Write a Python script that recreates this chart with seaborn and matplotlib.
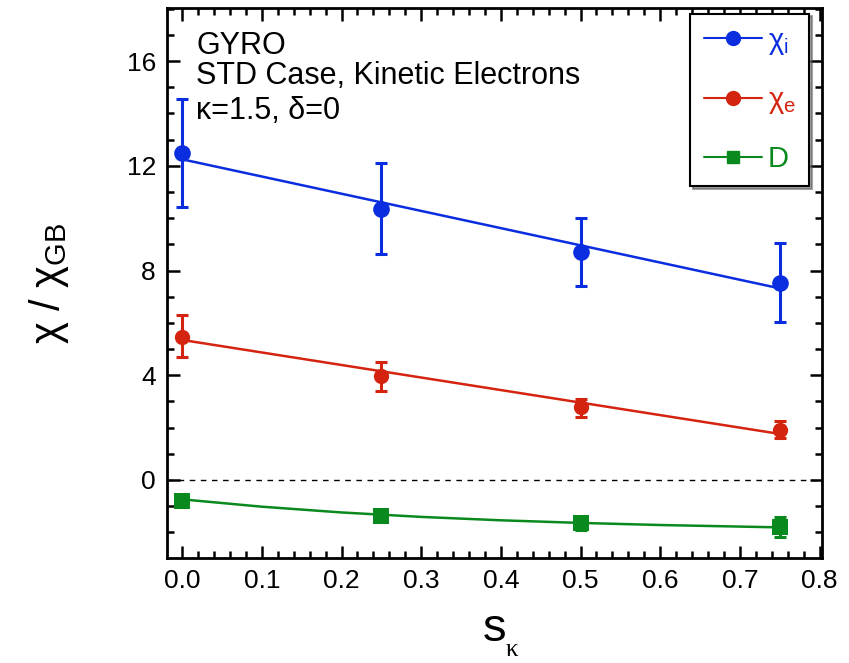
import numpy as np
import pandas as pd
import matplotlib
matplotlib.use("Agg")
import matplotlib.pyplot as plt
import seaborn as sns
from matplotlib.lines import Line2D
from matplotlib.ticker import MultipleLocator, FormatStrFormatter

# ---- data ----
s_kappa = [0.0, 0.25, 0.5, 0.75]
chi_i = [12.48, 10.36, 8.70, 7.53]
chi_i_lo = [10.41, 8.62, 7.40, 6.04]
chi_i_hi = [14.56, 12.11, 10.02, 9.04]
chi_e = [5.46, 3.97, 2.78, 1.92]
chi_e_lo = [4.70, 3.40, 2.40, 1.59]
chi_e_hi = [6.30, 4.51, 3.08, 2.25]
D = [-0.80, -1.38, -1.66, -1.81]
D_lo = [-1.02, -1.62, -1.92, -2.19]
D_hi = [-0.58, -1.14, -1.40, -1.40]

fit_x = [0.0, 0.75]
chi_i_fit = [12.25, 7.32]
chi_e_fit = [5.35, 1.76]
D_fit_x = [0.0, 0.1, 0.2, 0.3, 0.4, 0.5, 0.6, 0.7, 0.75]
D_fit = [-0.74, -1.02, -1.24, -1.41, -1.54, -1.64, -1.72, -1.78, -1.81]

labels = ["χ$_\\mathregular{i}$", "χ$_\\mathregular{e}$", "D"]
colors = ["#0a2de0", "#d42410", "#0a8a1e"]

sns.set_style("white")
plt.rcParams['font.family'] = ['Liberation Sans', 'DejaVu Sans']
plt.rcParams['mathtext.fontset'] = 'custom'
plt.rcParams['mathtext.rm'] = 'Liberation Sans'
for k in ['text.color', 'axes.labelcolor', 'xtick.color', 'ytick.color']:
    plt.rcParams[k] = 'black'

fig = plt.figure(figsize=(8.49, 6.63), dpi=100)
ax = fig.add_axes([167/849, 105/663, (822-167)/849, (558-8)/663])

ax.axhline(0, color="black", lw=1.0, ls=(0, (4, 4)), zorder=1)

series = [
    (chi_i, chi_i_lo, chi_i_hi, fit_x, chi_i_fit, "o", 12),
    (chi_e, chi_e_lo, chi_e_hi, fit_x, chi_e_fit, "o", 11),
    (D, D_lo, D_hi, D_fit_x, D_fit, "s", 11),
]
for (vals, lo, hi, fx, fy, mk, ms), col in zip(series, colors):
    sns.lineplot(x=fx, y=fy, ax=ax, color=col, lw=1.8, zorder=2)
    v = np.array(vals)
    yerr = np.vstack([v - np.array(lo), np.array(hi) - v])
    ax.errorbar(s_kappa, vals, yerr=yerr, fmt="none", ecolor=col,
                elinewidth=2.2, capsize=4, capthick=2.2, zorder=3)
    sns.scatterplot(x=s_kappa, y=vals, ax=ax, color=col, marker=mk,
                    s=ms**2, edgecolor=col, linewidth=0, zorder=4)

ax.set_xlim(-0.019, 0.803)
ax.set_ylim(-2.98, 18.03)
ax.xaxis.set_major_locator(MultipleLocator(0.1))
ax.xaxis.set_minor_locator(MultipleLocator(0.02))
ax.yaxis.set_major_locator(MultipleLocator(4))
ax.yaxis.set_minor_locator(MultipleLocator(1))
ax.xaxis.set_major_formatter(FormatStrFormatter("%.1f"))
ax.tick_params(which="both", direction="in", top=True, right=True,
               bottom=True, left=True, width=1.8, colors="black")
ax.tick_params(which="major", length=9, labelsize=19, pad=8)
ax.tick_params(which="minor", length=5)
for sp in ax.spines.values():
    sp.set_linewidth(2.0)
    sp.set_color("black")

ax.set_ylabel("χ / χ$_\\mathregular{GB}$", fontsize=30, labelpad=40)
ax.set_xlabel("s", fontsize=34, labelpad=10)
fig.text(512/849, 1 - 650/663, "κ", fontsize=18, ha="center", va="center",
         family=["Liberation Serif", "DejaVu Serif"])

ax.text(0.045, 0.958, "GYRO", transform=ax.transAxes, fontsize=22, va="top")
ax.text(0.045, 0.903, "STD Case, Kinetic Electrons", transform=ax.transAxes, fontsize=22, va="top")
ax.text(0.045, 0.84, "κ=1.5, δ=0", transform=ax.transAxes, fontsize=22, va="top")

handles = [
    Line2D([0], [0], color=colors[0], lw=1.5, marker="o", markersize=10),
    Line2D([0], [0], color=colors[1], lw=1.5, marker="o", markersize=10),
    Line2D([0], [0], color=colors[2], lw=1.5, marker="s", markersize=9),
]
leg = ax.legend(handles, labels, loc="upper right", bbox_to_anchor=(0.98, 0.99),
                fontsize=21, frameon=True, fancybox=False, shadow=True,
                labelspacing=1.0, handlelength=2.0, handletextpad=0.2,
                borderpad=0.45, borderaxespad=0)
leg.get_frame().set_edgecolor("black")
leg.get_frame().set_linewidth(1.5)
for t, c in zip(leg.get_texts(), colors):
    t.set_color(c)

fig.savefig("out.png", dpi=100)
